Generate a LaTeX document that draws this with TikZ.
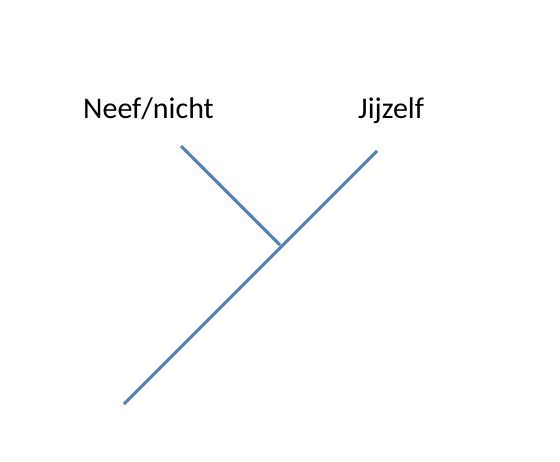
\documentclass[tikz,border=0pt]{standalone}
\usepackage{fontspec}
\setmainfont{Carlito}
\definecolor{lineblue}{RGB}{79,129,189}
\begin{document}
\begin{tikzpicture}[x=1pt,y=-1pt,
  branch/.style={draw=lineblue,line width=3pt},
  lbl/.style={font=\fontsize{30}{34}\selectfont,inner sep=0pt,anchor=base west}]
\useasboundingbox (0,0) rectangle (560,461);
\coordinate (root) at (124,404);
\coordinate (self) at (377,151);
\coordinate (cousin) at (181,146);
\coordinate (join) at (280,245);
\draw[branch] (root) -- (self);
\draw[branch] (cousin) -- (join);
\node[lbl] (lcousin) at (83,118) {Neef/nicht};
\node[lbl] (lself) at (358,118) {Jijzelf};
\end{tikzpicture}
\end{document}
